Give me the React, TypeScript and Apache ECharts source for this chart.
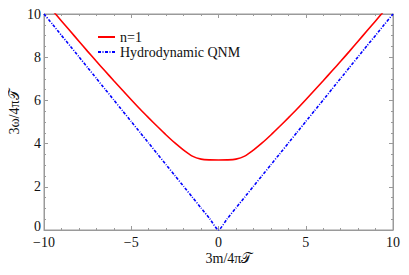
import React, { useEffect, useRef } from "react";
import * as echarts from "echarts";

const xValues = [
  -10, -9.5, -9, -8.5, -8, -7.5, -7, -6.5, -6, -5.5, -5, -4.5, -4, -3.5, -3, -2.5, -2, -1.5, -1, -0.5,
  0, 0.5, 1, 1.5, 2, 2.5, 3, 3.5, 4, 4.5, 5, 5.5, 6, 6.5, 7, 7.5, 8, 8.5, 9, 9.5, 10,
];
const n1Values = [
  10.62, 10.15, 9.68, 9.21, 8.74, 8.27, 7.81, 7.36, 6.91, 6.47, 6.03, 5.6, 5.19, 4.79, 4.4, 4.03, 3.7, 3.42, 3.28, 3.245,
  3.24, 3.245, 3.28, 3.42, 3.7, 4.03, 4.4, 4.79, 5.19, 5.6, 6.03, 6.47, 6.91, 7.36, 7.81, 8.27, 8.74, 9.21, 9.68, 10.15, 10.62,
];
const qnmValues = [
  10.0, 9.51, 9.01, 8.52, 8.02, 7.52, 7.02, 6.52, 6.02, 5.52, 5.02, 4.52, 4.02, 3.52, 3.02, 2.52, 2.02, 1.52, 1.02, 0.52,
  0, 0.52, 1.02, 1.52, 2.02, 2.52, 3.02, 3.52, 4.02, 4.52, 5.02, 5.52, 6.02, 6.52, 7.02, 7.52, 8.02, 8.52, 9.01, 9.51, 10.0,
];
const seriesNames = ["n=1", "Hydrodynamic QNM"];
const xTitle = "3m/4π𝒯";
const yTitle = "3ω/4π𝒯";

const FONT = "'Liberation Serif', 'DejaVu Serif', serif";
const FRAME = "#9a9a9a";

export default function App() {
  const ref = useRef<HTMLDivElement>(null);
  useEffect(() => {
    if (!ref.current) return;
    const chart = echarts.init(ref.current, null, { renderer: "svg" });
    const fmt = (v: number) => String(v).replace("-", "\u2212");
    const makeAxis = (show: boolean, split: number, margin: number) => ({
      axisLine: { show: true, onZero: false, lineStyle: { color: FRAME, width: 1 } },
      axisTick: { show: true, inside: true, length: 4, lineStyle: { color: FRAME } },
      minorTick: { show: true, splitNumber: split, length: 2, lineStyle: { color: FRAME } },
      splitLine: { show: false },
      axisLabel: {
        show,
        color: "#111",
        fontFamily: FONT,
        fontSize: 14,
        lineHeight: 10,
        margin,
        formatter: fmt,
      },
    });
    const leftY = makeAxis(true, 4, 3);
    chart.setOption({
      animation: false,
      grid: {
        left: 44,
        right: 16,
        top: 14,
        bottom: 45,
        show: true,
        borderColor: FRAME,
        borderWidth: 1,
        backgroundColor: "transparent",
      },
      legend: {
        orient: "vertical",
        left: 92,
        top: 25,
        itemGap: 1,
        itemWidth: 17,
        itemHeight: 11,
        itemStyle: { opacity: 0 },
        textStyle: { fontFamily: FONT, fontSize: 14, color: "#111" },
        data: seriesNames,
      },
      xAxis: [
        { type: "value", min: -10, max: 10, interval: 5, position: "bottom", ...makeAxis(true, 5, 7) },
        { type: "value", min: -10, max: 10, interval: 5, position: "top", ...makeAxis(false, 5, 7) },
      ],
      yAxis: [
        {
          type: "value",
          min: 0,
          max: 10,
          interval: 2,
          position: "left",
          ...leftY,
          axisLabel: {
            ...leftY.axisLabel,
            formatter: (v: number) => (v === 0 ? "{z|0}" : fmt(v)),
            rich: {
              z: { fontFamily: FONT, fontSize: 14, color: "#111", padding: [0, 0, 7, 0] },
            },
          },
        },
        { type: "value", min: 0, max: 10, interval: 2, position: "right", ...makeAxis(false, 4, 3) },
      ],
      graphic: [
        {
          type: "text",
          x: 229,
          y: 258,
          style: {
            text: xTitle,
            font: `14px ${FONT}`,
            fill: "#111",
            textAlign: "center",
            textVerticalAlign: "middle",
          },
        },
        {
          type: "text",
          x: 14,
          y: 112,
          rotation: Math.PI / 2,
          style: {
            text: yTitle,
            font: `14px ${FONT}`,
            fill: "#111",
            textAlign: "center",
            textVerticalAlign: "middle",
          },
        },
      ],
      series: [
        {
          name: seriesNames[0],
          type: "line",
          data: xValues.map((x, i) => [x, n1Values[i]]),
          showSymbol: false,
          symbol: "none",
          smooth: 0.3,
          clip: true,
          lineStyle: { color: "#ff0000", width: 1.6 },
          itemStyle: { color: "#ff0000" },
        },
        {
          name: seriesNames[1],
          type: "line",
          data: xValues.map((x, i) => [x, qnmValues[i]]),
          showSymbol: false,
          symbol: "none",
          smooth: 0.2,
          clip: true,
          lineStyle: { color: "#0000ff", width: 1.6, type: [3, 1.5, 1, 1.5] },
          itemStyle: { color: "#0000ff" },
        },
      ],
    });
    return () => chart.dispose();
  }, []);
  return <div ref={ref} style={{ width: 409, height: 275, margin: -8 }} />;
}
